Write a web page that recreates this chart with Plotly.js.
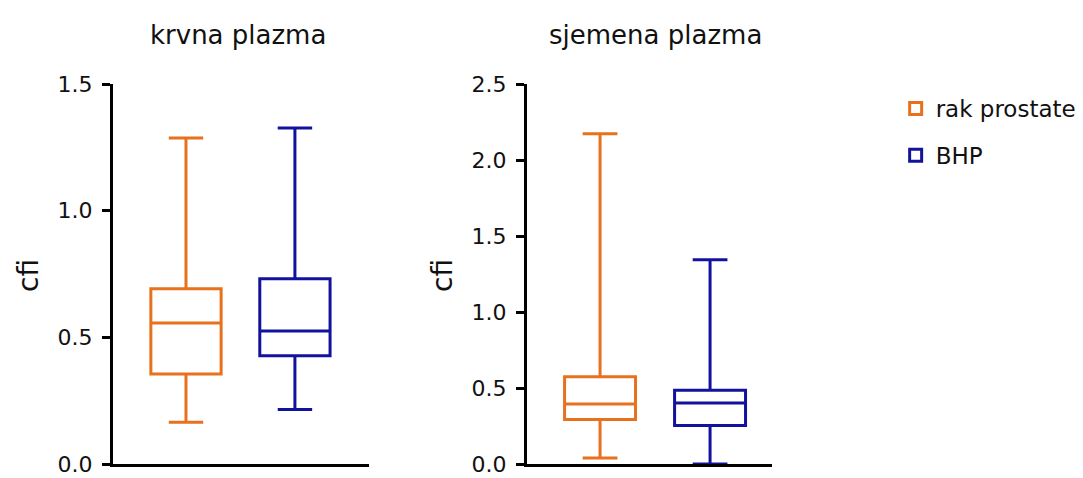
<!DOCTYPE html>
<html>
<head>
<meta charset="utf-8">
<script src="https://cdn.plot.ly/plotly-3.0.1.min.js"></script>
<style>html,body{margin:0;padding:0;background:#fff;} #chart{width:1083px;height:478px;}</style>
</head>
<body>
<div id="chart"></div>
<script>
// Data (box summary statistics)
const seriesNames = ['rak prostate', 'BHP'];
const panelTitles = ['krvna plazma', 'sjemena plazma'];
const yTitle = 'cfi';

// krvna plazma
const bloodLower  = [0.165, 0.215];
const bloodQ1     = [0.355, 0.427];
const bloodMedian = [0.557, 0.525];
const bloodQ3     = [0.692, 0.731];
const bloodUpper  = [1.287, 1.326];

// sjemena plazma
const semenLower  = [0.04, 0.0];
const semenQ1     = [0.292, 0.253];
const semenMedian = [0.395, 0.401];
const semenQ3     = [0.574, 0.486];
const semenUpper  = [2.173, 1.344];

const colors = ['#E8711E', '#12129C'];
const FONT = 'DejaVu Sans, Arial, sans-serif';

const traces = [];
function addPanel(lo, q1, med, q3, up, xa, ya, showLeg) {
  for (let i = 0; i < seriesNames.length; i++) {
    traces.push({
      type: 'box',
      name: seriesNames[i],
      legendgroup: seriesNames[i],
      showlegend: showLeg,
      x: [i],
      lowerfence: [lo[i]], q1: [q1[i]], median: [med[i]], q3: [q3[i]], upperfence: [up[i]],
      boxpoints: false,
      width: 0.645,
      whiskerwidth: 0.49,
      fillcolor: 'rgba(255,255,255,0)',
      line: {color: colors[i], width: 3},
      xaxis: xa, yaxis: ya,
      hoverinfo: 'y'
    });
  }
}
addPanel(bloodLower, bloodQ1, bloodMedian, bloodQ3, bloodUpper, 'x', 'y', true);
addPanel(semenLower, semenQ1, semenMedian, semenQ3, semenUpper, 'x2', 'y2', false);

const yDomain = [1 - 464/478, 1 - 84/478];
const axisY = {
  showline: true, linecolor: '#000', linewidth: 3,
  ticks: 'outside', ticklen: 8, tickwidth: 3, tickcolor: '#000',
  showgrid: false, zeroline: false,
  tickformat: '.1f', dtick: 0.5,
  ticklabelstandoff: 5,
  ticklabeloverflow: 'allow',
  tickfont: {family: FONT, size: 22, color: '#111'},
  domain: yDomain
};
const axisX = {
  showline: true, linecolor: '#000', linewidth: 3,
  showticklabels: false, ticks: '', showgrid: false, zeroline: false
};

const layout = {
  width: 1083, height: 478,
  margin: {l: 0, r: 0, t: 0, b: 0},
  paper_bgcolor: '#fff', plot_bgcolor: '#fff',
  showlegend: true,
  boxmode: 'overlay',
  font: {family: FONT, color: '#111'},
  xaxis: Object.assign({}, axisX, {domain: [113/1083, 369/1083], range: [-0.67, 1.68], anchor: 'y'}),
  yaxis: Object.assign({}, axisY, {range: [0, 1.5], anchor: 'x'}),
  xaxis2: Object.assign({}, axisX, {domain: [527/1083, 772/1083], range: [-0.664, 1.563], anchor: 'y2'}),
  yaxis2: Object.assign({}, axisY, {range: [0, 2.5], anchor: 'x2'}),
  legend: {
    x: 0.827, y: 1 - 87/478, xanchor: 'left', yanchor: 'top',
    font: {family: FONT, size: 23, color: '#111'},
    traceorder: 'grouped', tracegroupgap: 14,
    bgcolor: 'rgba(0,0,0,0)'
  },
  annotations: [
    {text: panelTitles[0], xref: 'paper', yref: 'paper', x: 238/1083, y: 1 - 35/478, xanchor: 'center', yanchor: 'middle', showarrow: false, font: {family: FONT, size: 26, color: '#111'}},
    {text: panelTitles[1], xref: 'paper', yref: 'paper', x: 655/1083, y: 1 - 35/478, xanchor: 'center', yanchor: 'middle', showarrow: false, font: {family: FONT, size: 26, color: '#111'}},
    {text: yTitle, xref: 'paper', yref: 'paper', x: 28/1083, y: 1 - 276/478, xanchor: 'center', yanchor: 'middle', textangle: -90, showarrow: false, font: {family: FONT, size: 28, color: '#111'}},
    {text: yTitle, xref: 'paper', yref: 'paper', x: 442/1083, y: 1 - 276/478, xanchor: 'center', yanchor: 'middle', textangle: -90, showarrow: false, font: {family: FONT, size: 28, color: '#111'}}
  ]
};

Plotly.newPlot('chart', traces, layout, {staticPlot: true, displayModeBar: false});
</script>
</body>
</html>
